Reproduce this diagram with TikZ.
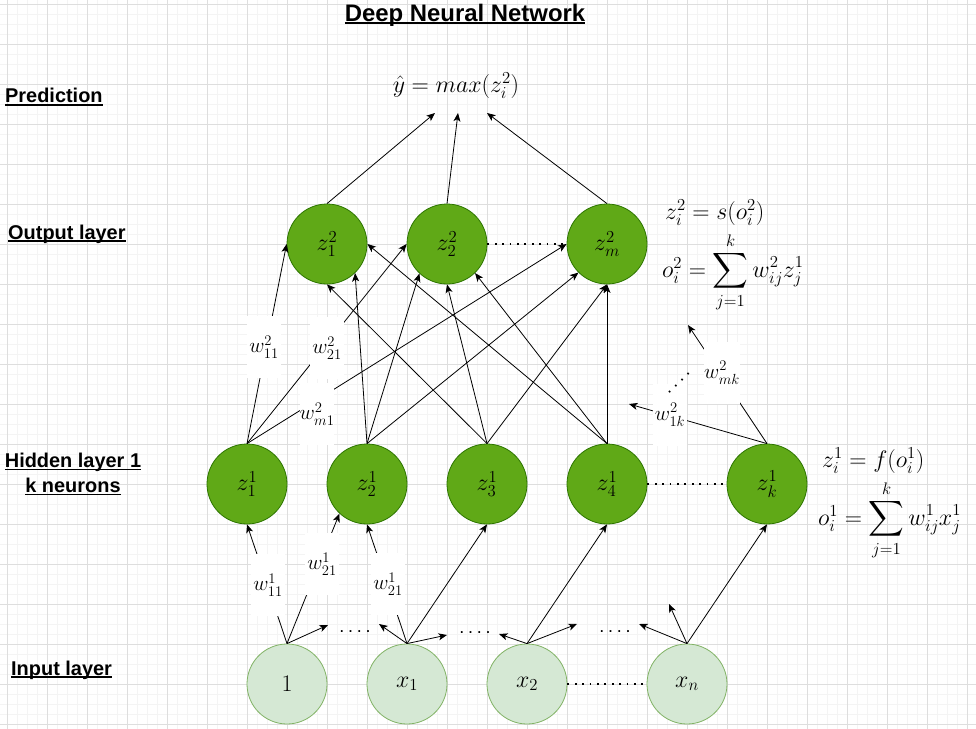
\RequirePackage{fix-cm}
\documentclass[tikz,border=0pt]{standalone}
\usepackage{exscale}
\usepackage{fontspec}
\newfontfamily\sansb{Liberation Sans}
\usetikzlibrary{arrows.meta}
\definecolor{gfill}{HTML}{60A917}
\definecolor{gline}{HTML}{2D7600}
\definecolor{lfill}{HTML}{D5E8D4}
\definecolor{lline}{HTML}{82B366}
\definecolor{gmaj}{HTML}{DEDEDE}
\definecolor{gmin}{HTML}{F4F4F4}
\newcommand{\fourdots}{.\hspace{3.8bp}.\hspace{3.8bp}.\hspace{3.8bp}.}
\newcommand{\myul}[1]{\setbox0\hbox{#1}\rlap{\rule[-2.8bp]{\wd0}{1.5bp}}\box0}
\begin{document}
\begin{tikzpicture}[x=1bp,y=-1bp,
 dn/.style={circle,fill=gfill,draw=gline,line width=0.8bp,minimum size=80bp,inner sep=0pt,font=\fontsize{24}{28}\selectfont},
 ln/.style={circle,fill=lfill,draw=lline,line width=0.8bp,minimum size=80bp,inner sep=0pt,font=\fontsize{24}{28}\selectfont},
 conn/.style={line width=0.8bp,-{Stealth[length=8.5bp,width=7bp,inset=2.2bp]}},
 dotline/.style={line width=1.8bp,dash pattern=on 1.8bp off 5.6bp},
 wlab/.style={fill=white,inner sep=0pt,minimum width=34bp,minimum height=62bp,font=\fontsize{21}{25}\selectfont},
 eqn/.style={inner sep=0pt,anchor=west,font=\fontsize{24}{28}\selectfont},
 ttl/.style={inner sep=0pt,font=\sansb\bfseries\fontsize{24}{28}\selectfont},
 lyr/.style={inner sep=0pt,font=\sansb\bfseries\fontsize{20}{25}\selectfont,align=center},
 dottxt/.style={font=\sansb\fontsize{18}{20}\selectfont,inner sep=0pt},
 gridmin/.style={gmin,line width=0.8bp},
 gridmaj/.style={gmaj,line width=0.8bp}
]
\useasboundingbox (0,0) rectangle (976,729);
\fill[white] (0,0) rectangle (976,729);
% background grid
\foreach \x in {7,17,...,967} \draw[gridmin] (\x,0) -- (\x,729);
\foreach \y in {4,14,...,724} \draw[gridmin] (0,\y) -- (976,\y);
\foreach \x in {7,47,...,967} \draw[gridmaj] (\x,0) -- (\x,729);
\foreach \y in {4,44,...,724} \draw[gridmaj] (0,\y) -- (976,\y);

% titles
\node[ttl] (title) at (465,15) {\myul{Deep Neural Network}};
\node[lyr,anchor=west] (lpred) at (5,97) {\myul{Prediction}};
\node[lyr,anchor=west] (lout) at (8,234) {\myul{Output layer}};
\node[lyr] (lhid) at (73,474) {\myul{Hidden layer 1}\\\myul{k neurons}};
\node[lyr,anchor=west] (linp) at (11,670) {\myul{Input layer}};

% prediction
\node[inner sep=0pt,font=\fontsize{24}{28}\selectfont] (pred) at (456,86) {$\hat{y} = max(z_i^2)$};
\coordinate (p1) at (435,113);
\coordinate (p2) at (458,113);
\coordinate (p3) at (487,113);

% neurons
\node[dn] (o1) at (327,244) {$z_1^2$};
\node[dn] (o2) at (447,244) {$z_2^2$};
\node[dn] (o3) at (607,244) {$z_m^2$};
\node[dn] (h1) at (247,484) {$z_1^1$};
\node[dn] (h2) at (367,484) {$z_2^1$};
\node[dn] (h3) at (487,484) {$z_3^1$};
\node[dn] (h4) at (607,484) {$z_4^1$};
\node[dn] (h5) at (767,484) {$z_k^1$};
\node[ln] (i1) at (287,684) {$1$};
\node[ln] (i2) at (407,684) {$x_1$};
\node[ln] (i3) at (527,684) {$x_2$};
\node[ln] (i4) at (687,684) {$x_n$};

% formulas
\node[eqn] (f2a) at (665,213) {$z_i^2 = s(o_i^2)$};
\node[eqn] (f2b) at (662,272) {$o_i^2 = \displaystyle\sum_{j=1}^{k} w_{ij}^2 z_j^1$};
\node[eqn] (f1a) at (822,461) {$z_i^1 = f(o_i^1)$};
\node[eqn] (f1b) at (818,520) {$o_i^1 = \displaystyle\sum_{j=1}^{k} w_{ij}^1 x_j^1$};

% free ends
\coordinate (s1) at (328,625);
\coordinate (s2) at (379,624);
\coordinate (s3) at (447,635);
\coordinate (s4) at (499,634);
\coordinate (s5) at (577,624);
\coordinate (s6) at (639,624);
\coordinate (s7) at (669,604);
\coordinate (q1) at (629,404);
\coordinate (q2) at (688,325);

% output to prediction
\draw[conn] (o1.north) -- (p1);
\draw[conn] (o2.north) -- (p2);
\draw[conn] (o3.north) -- (p3);

% hidden to output
\draw[conn] (h1.north) -- (o1.west);
\draw[conn] (h1.north) -- (o2.west);
\draw[conn] (h1.north) -- (o3.west);
\draw[conn] (h2.north) -- (o1.314);
\draw[conn] (h2.north) -- (o2.227);
\draw[conn] (h2.north) -- (o3.225);
\draw[conn] (h3.north) -- (o1.south);
\draw[conn] (h3.north) -- (o2.south);
\draw[conn] (h3.north) -- (o3.south);
\draw[conn] (h4.north) -- (o1.east);
\draw[conn] (h4.north) -- (o2.314);
\draw[conn] (h4.north) -- (o3.south);
\draw[conn] (h5.north) -- (q1);
\draw[conn] (h5.north) -- (q2);

% input to hidden
\draw[conn] (i1.north) -- (h1.south);
\draw[conn] (i1.north) -- (h2.227);
\draw[conn] (i1.north) -- (s1);
\draw[conn] (i2.north) -- (h2.south);
\draw[conn] (i2.north) -- (s2);
\draw[conn] (i2.north) -- (s3);
\draw[conn] (i2.north) -- (h3.south);
\draw[conn] (i3.north) -- (s4);
\draw[conn] (i3.north) -- (s5);
\draw[conn] (i3.north) -- (h4.south);
\draw[conn] (i4.north) -- (s6);
\draw[conn] (i4.north) -- (s7);
\draw[conn] (i4.north) -- (h5.south);

% dotted links
\draw[dotline] (o2) -- (o3);
\draw[dotline] (h4) -- (h5);
\draw[dotline] (i3) -- (i4);

% weight labels
\node[wlab] (l1) at (264,347) {$w_{11}^2$};
\node[wlab] (l2) at (327,348) {$w_{21}^2$};
\node[wlab] (l3) at (317,414) {$w_{m1}^2$};
\node[wlab] (l4) at (268,585) {$w_{11}^1$};
\node[wlab] (l5) at (322,564) {$w_{21}^1$};
\node[wlab] (l6) at (388,584) {$w_{21}^1$};
\node[wlab] (l7) at (670,415) {$w_{1k}^2$};
\node[wlab] (l8) at (722,373) {$w_{mk}^2$};

% dots
\node[dottxt] (d1) at (355,632) {\fourdots};
\node[dottxt] (d2) at (475,633) {\fourdots};
\node[dottxt] (d3) at (615,632) {\fourdots};
\node[dottxt,rotate=45] (d4) at (679,383) {\fourdots};
\end{tikzpicture}
\end{document}
